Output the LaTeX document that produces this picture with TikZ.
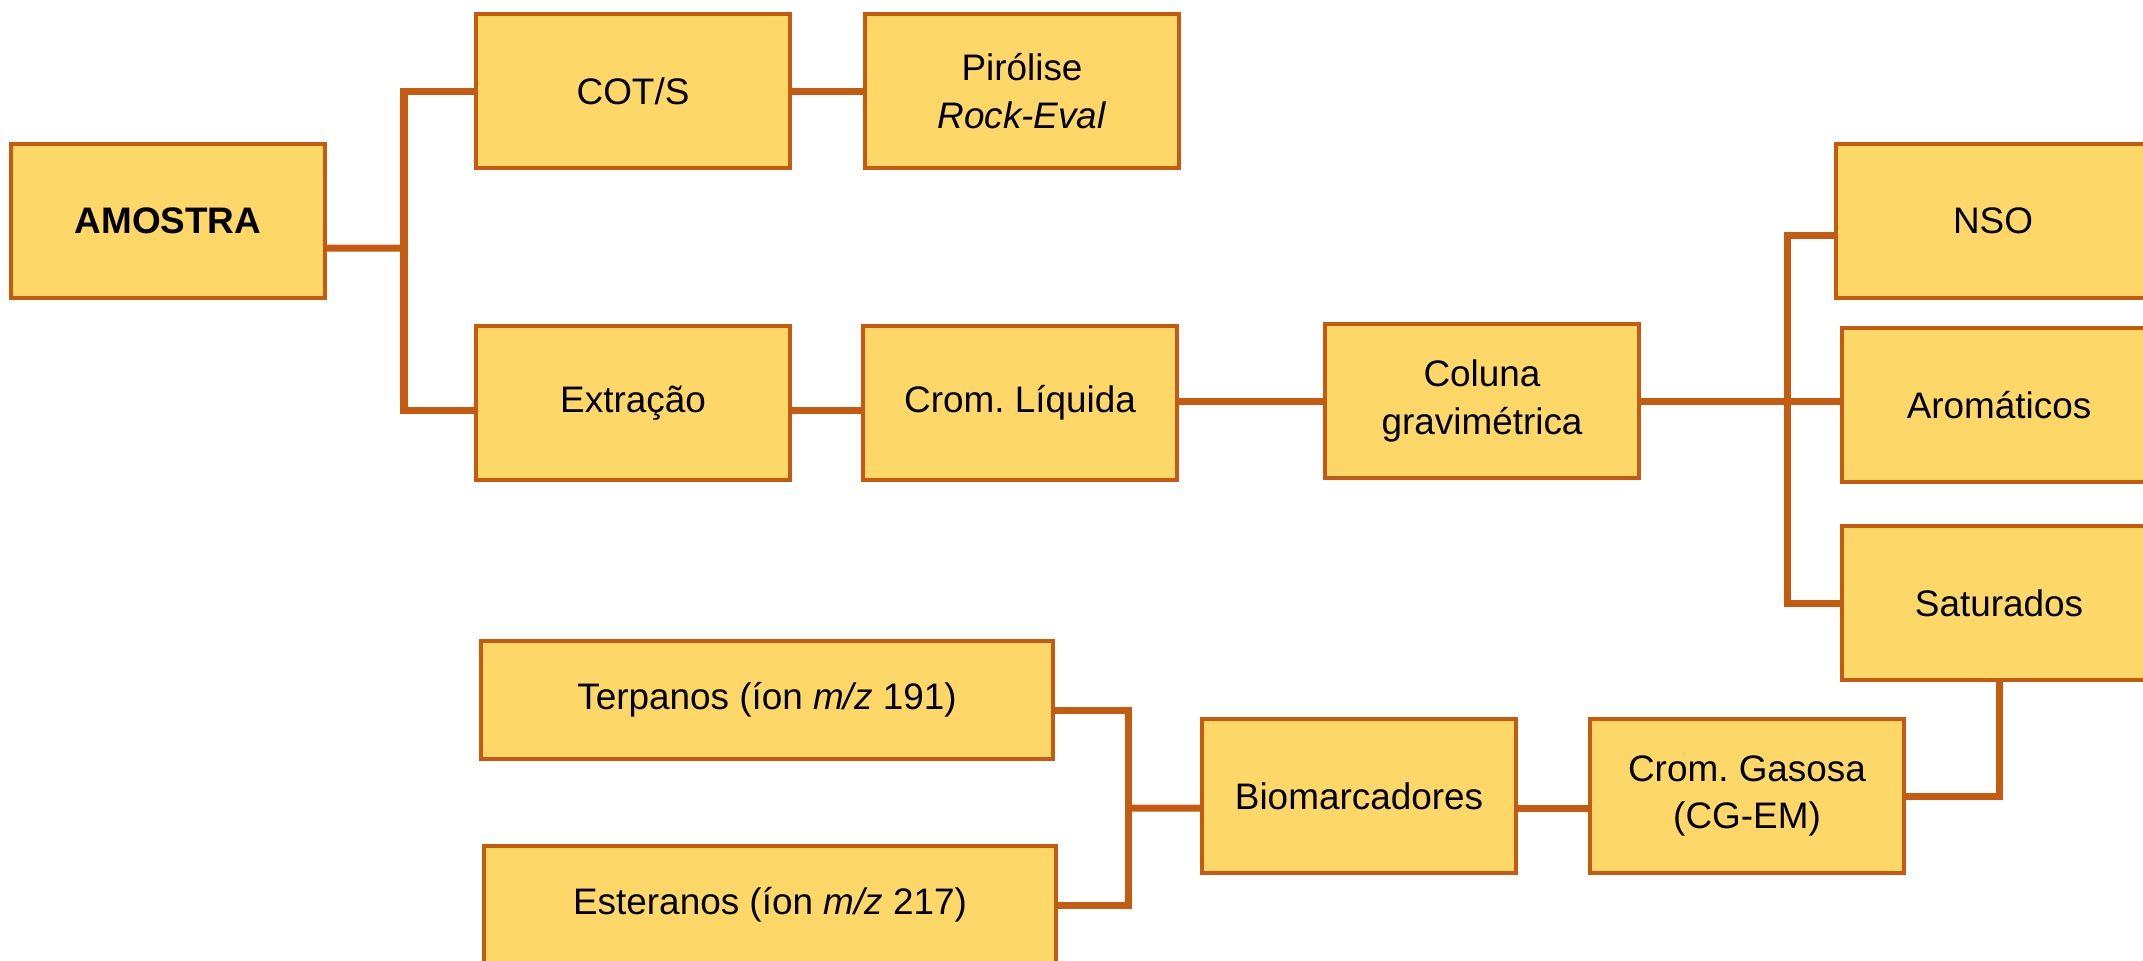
\documentclass[tikz,border=0pt]{standalone}
\usepackage{fontspec}
\setmainfont{Liberation Sans}
\frenchspacing
\usepackage{tikz}
\definecolor{caixa}{HTML}{FDD868}
\definecolor{borda}{HTML}{C55A11}

\begin{document}
\begin{tikzpicture}[
	etapa/.style={draw=borda,fill=caixa,line width=0.9pt,minimum width=3.14cm,minimum height=1.54cm,inner sep=0pt,align=center,font=\fontsize{10.5}{13.5}\selectfont},
	ion/.style={etapa,minimum width=5.72cm,minimum height=1.18cm},
	liga/.style={draw=borda,line width=2pt}]
			\clip (0,0) rectangle (21.43,-9.60);
			
			\node[etapa] (amostra)at(1.68,-2.21) {\textbf{AMOSTRA}};
			\node[etapa] (cots)at(6.33,-0.91) {COT/S};
			\node[etapa] (pirolise)at(10.22,-0.91) {Pirólise\\\textit{Rock-Eval}};
			\node[etapa] (extracao)at(6.33,-4.03) {Extração};
			\node[etapa] (cromliq)at(10.20,-4.03) {Crom. Líquida};
			\node[etapa] (coluna)at(14.82,-4.01) {Coluna\\gravimétrica};
			\node[etapa] (nso)at(19.93,-2.21) {NSO};
			\node[etapa] (aromaticos)at(19.99,-4.05) {Aromáticos};
			\node[etapa] (saturados)at(19.99,-6.03) {Saturados};
			\node[etapa] (cromgas)at(17.47,-7.96) {Crom. Gasosa\\(CG-EM)};
			\node[etapa] (biomarc)at(13.59,-7.96) {Biomarcadores};
			\node[ion] (terpanos)at(7.67,-7.00) {Terpanos (íon \textit{m/z} 191)};
			\node[ion] (esteranos)at(7.70,-9.05) {Esteranos (íon \textit{m/z} 217)};
			
			\coordinate (ja)at(4.04,-2.48);
			\coordinate (jc)at(17.87,-4.01);
			\coordinate (jb)at(11.28,-8.08);
			
			\draw[liga] ([yshift=-2.7mm]amostra.east) -- (ja);
			\draw[liga] (cots.west) -| (ja) |- ([yshift=-0.7mm]extracao.west);
			\draw[liga] (cots) -- (pirolise);
			\draw[liga] ([yshift=-0.7mm]extracao.east) -- ([yshift=-0.7mm]cromliq.west);
			\draw[liga] (coluna.west -| cromliq.east) -- (coluna.west);
			\draw[liga] (coluna.east) -- (jc);
			\draw[liga] ([yshift=-1.4mm]nso.west) -| (jc) |- (saturados.west);
			\draw[liga] (jc) -- (jc -| aromaticos.west);
			\draw[liga] (saturados.south) |- (cromgas.east);
			\draw[liga] ([yshift=-1.2mm]cromgas.west) -- ([yshift=-1.2mm]biomarc.east);
			\draw[liga] ([yshift=-1.2mm]biomarc.west) -- (jb);
			\draw[liga] ([yshift=-1mm]terpanos.east) -| (jb) |- (esteranos.east);
		\end{tikzpicture}
\end{document}
